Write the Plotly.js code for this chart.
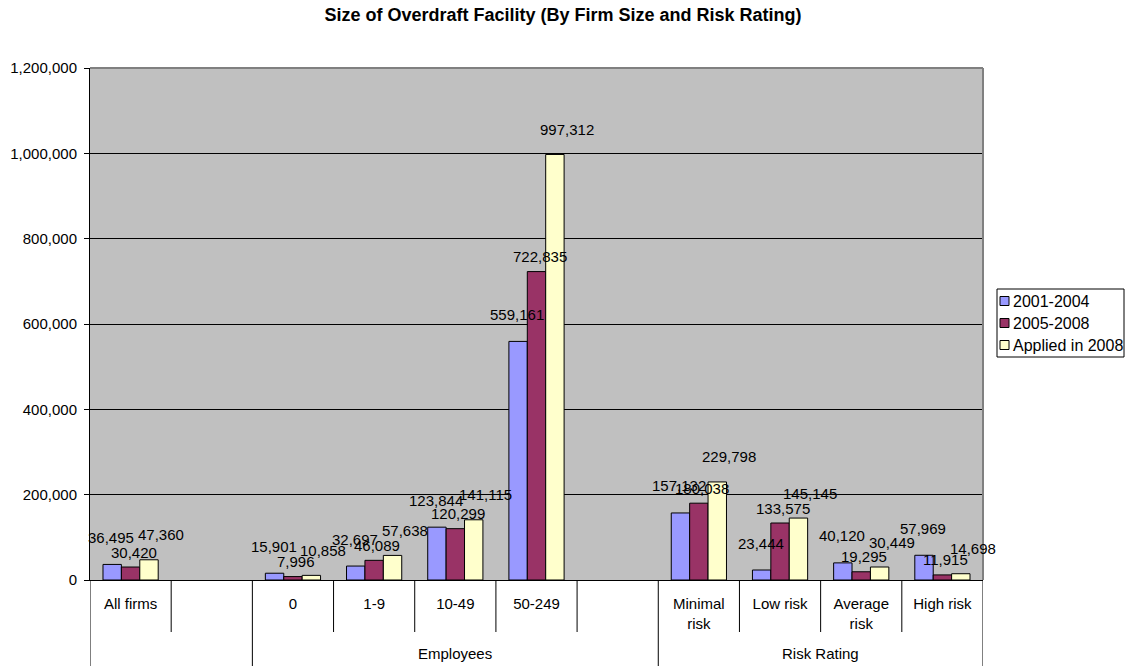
<!DOCTYPE html>
<html>
<head>
<meta charset="utf-8">
<script src="https://cdn.plot.ly/plotly-3.0.1.min.js"></script>
<style>html,body{margin:0;padding:0;background:#fff;}#chart{width:1130px;height:666px;}</style>
</head>
<body>
<div id="chart"></div>
<script>
// ---- Data ----
const groups = ["", "", "Employees", "Employees", "Employees", "Employees", "Employees", "Risk Rating", "Risk Rating", "Risk Rating", "Risk Rating"];
const categories = ["All firms", " ", "0", "1-9", "10-49", "50-249", "  ", "Minimal<br>risk", "Low risk", "Average<br>risk", "High risk"];
const s2001_2004 = [36495, null, 15901, 32697, 123844, 559161, null, 157132, 23444, 40120, 57969];
const s2005_2008 = [30420, null, 7996, 46089, 120299, 722835, null, 180038, 133575, 19295, 11915];
const sApplied2008 = [47360, null, 10858, 57638, 141115, 997312, null, 229798, 145145, 30449, 14698];
const seriesNames = ["2001-2004", "2005-2008", "Applied in 2008"];
const yTickVals = [0, 200000, 400000, 600000, 800000, 1000000, 1200000];
const yTickText = ["0", "200,000", "400,000", "600,000", "800,000", "1,000,000", "1,200,000"];

// ---- Style ----
const FONT = "Liberation Sans, Arial, Helvetica, sans-serif";
const colors = ["#9999FF", "#993366", "#FFFFCC"];
const labelShift = [{dx: -1, dy: 27}, {dx: 3, dy: 15}, {dx: 12, dy: 25}];
const BARGAP = 0.32;
const W = 1130, H = 666, ML = 90, MR = 147, MT = 68, MB = 86;
const PW = W - ML - MR, PH = H - MT - MB;
const fx = px => (px - ML) / PW;
const fy = py => (H - MB - py) / PH;

const seriesVals = [s2001_2004, s2005_2008, sApplied2008];

const traces = seriesVals.map((vals, i) => ({
  type: "bar",
  name: seriesNames[i],
  x: categories,
  y: vals,
  marker: {color: colors[i], line: {color: "#000000", width: 1}},
  hoverinfo: "skip",
  showlegend: false
}));

const annotations = [];
const shapes = [];
const nS = seriesVals.length;
const slot = (1 - BARGAP) / nS;

// Data labels
seriesVals.forEach((vals, k) => {
  vals.forEach((v, i) => {
    if (v == null) return;
    annotations.push({
      x: i + (k - (nS - 1) / 2) * slot, y: v, xref: "x", yref: "y",
      text: v.toLocaleString("en-US"), showarrow: false,
      xanchor: "center", yanchor: "middle",
      xshift: labelShift[k].dx, yshift: labelShift[k].dy,
      font: {family: FONT, size: 15, color: "#000000"}
    });
  });
});

// Category separators (short between categories, long between groups)
for (let b = -1; b < categories.length; b++) {
  const isEdge = b === -1 || b === categories.length - 1;
  const isLong = isEdge || groups[b] !== groups[b + 1];
  shapes.push({
    type: "line", xref: "x", yref: "paper",
    x0: b + 0.5, x1: b + 0.5, y0: 0, y1: isLong ? fy(666) : fy(632),
    line: {color: "#000000", width: 1}
  });
}
// Group labels
const seen = {};
groups.forEach((g, i) => { if (g) { (seen[g] = seen[g] || []).push(i); } });
Object.keys(seen).forEach(g => {
  const idx = seen[g];
  annotations.push({
    x: (idx[0] + idx[idx.length - 1]) / 2, y: fy(653), xref: "x", yref: "paper",
    text: g, showarrow: false, xanchor: "center", yanchor: "middle",
    font: {family: FONT, size: 15, color: "#000000"}
  });
});

// Plot-area border (top & right, grey)
shapes.push({type: "line", xref: "paper", yref: "paper", x0: 0, x1: 1, y0: 1, y1: 1, line: {color: "#808080", width: 2}});
shapes.push({type: "line", xref: "paper", yref: "paper", x0: 1, x1: 1, y0: 0, y1: 1, line: {color: "#808080", width: 2}});

// Legend (drawn as a compact Excel-style box)
shapes.push({type: "rect", xref: "paper", yref: "paper", x0: fx(997), x1: fx(1124), y0: fy(289), y1: fy(357),
  line: {color: "#000000", width: 1}, fillcolor: "#FFFFFF"});
seriesNames.forEach((n, k) => {
  const cy = 301 + k * 22;
  shapes.push({type: "rect", xref: "paper", yref: "paper", x0: fx(1000), x1: fx(1009), y0: fy(cy - 4.5), y1: fy(cy + 4.5),
    line: {color: "#000000", width: 1}, fillcolor: colors[k]});
  annotations.push({x: fx(1011), y: fy(cy), xref: "paper", yref: "paper", text: n, showarrow: false,
    xanchor: "left", yanchor: "middle", font: {family: FONT, size: 16, color: "#000000"}});
});

const layout = {
  width: W,
  height: H,
  paper_bgcolor: "#FFFFFF",
  plot_bgcolor: "#C0C0C0",
  margin: {l: ML, r: MR, t: MT, b: MB, pad: 0},
  barmode: "group",
  bargap: BARGAP,
  bargroupgap: 0,
  showlegend: false,
  font: {family: FONT, size: 15, color: "#000000"},
  title: {
    text: "<b>Size of Overdraft Facility (By Firm Size and Risk Rating)</b>",
    font: {family: FONT, size: 18, color: "#000000"},
    x: 563 / W, xref: "container", xanchor: "center",
    y: 1 - 15 / H, yref: "container", yanchor: "middle"
  },
  xaxis: {
    type: "category",
    categoryorder: "array", categoryarray: categories,
    range: [-0.5, categories.length - 0.5],
    showline: true, linecolor: "#000000", linewidth: 1,
    ticks: "outside", ticklen: 10, tickcolor: "rgba(0,0,0,0)",
    showgrid: false, zeroline: false,
    tickfont: {family: FONT, size: 15, color: "#000000"},
    fixedrange: true
  },
  yaxis: {
    range: [0, 1200000],
    tickvals: yTickVals,
    ticktext: yTickText,
    showline: true, linecolor: "#000000", linewidth: 1,
    ticks: "outside", ticklen: 5, tickcolor: "#000000",
    ticklabelstandoff: 4,
    showgrid: true, gridcolor: "#000000", gridwidth: 1,
    zeroline: false,
    tickfont: {family: FONT, size: 15, color: "#000000"},
    fixedrange: true
  },
  annotations: annotations,
  shapes: shapes
};

Plotly.newPlot("chart", traces, layout, {displayModeBar: false, staticPlot: true});
</script>
</body>
</html>
